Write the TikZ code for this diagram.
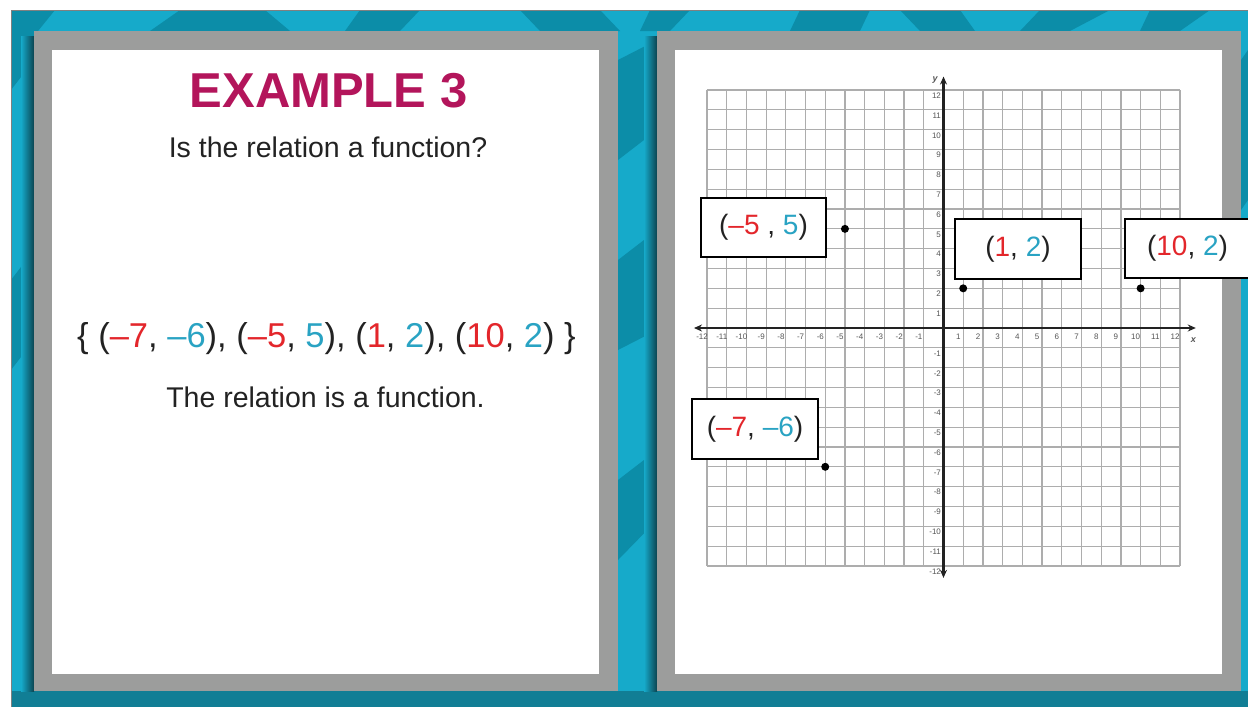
\documentclass[tikz,border=0pt]{standalone}
\usepackage{fontspec}
\setmainfont{Liberation Sans}
\usetikzlibrary{arrows.meta}
\definecolor{tealA}{HTML}{16AACA}
\definecolor{tealB}{HTML}{0C8DA8}
\definecolor{tealC}{HTML}{117E95}
\definecolor{shadowc}{HTML}{0A4350}
\definecolor{panelgray}{HTML}{9C9D9C}
\definecolor{titlec}{HTML}{B3155B}
\definecolor{xred}{HTML}{E3262B}
\definecolor{yblue}{HTML}{29A3C3}
\definecolor{inkc}{HTML}{222222}
\definecolor{gridc}{HTML}{ADADAD}
\definecolor{tickc}{HTML}{555555}
\newcommand{\xr}[1]{\textcolor{xred}{#1}}
\newcommand{\yb}[1]{\textcolor{yblue}{#1}}
\tikzset{
  bodytext/.style={font=\fontsize{28.5}{32}\selectfont, text=inkc, anchor=base, inner sep=0pt},
  settext/.style={font=\fontsize{34.5}{38}\selectfont, text=inkc, anchor=base, inner sep=0pt},
  titletext/.style={font=\fontsize{49}{52}\selectfont\bfseries, text=titlec, anchor=base, inner sep=0pt},
  ptbox/.style={draw=black, line width=2pt, fill=white, minimum width=125pt, minimum height=59pt,
    inner sep=0pt, font=\fontsize{28}{32}\selectfont, text=inkc},
  gridline/.style={draw=gridc, line width=1.2pt},
  axisline/.style={draw=inkc, line width=2.6pt, {Stealth[length=8pt,width=7pt]}-{Stealth[length=8pt,width=7pt]}},
  tick/.style={font=\fontsize{8}{9}\selectfont, text=tickc, inner sep=0pt},
  ptdot/.style={fill=black},
}
\begin{document}
\begin{tikzpicture}[x=1pt,y=-1pt]
\useasboundingbox (0,0) rectangle (1248,707);
\fill[white] (0,0) rectangle (1248,707);
% teal background
\fill[tealA] (11,10) rectangle (1248,707);
\fill[tealB] (11,10) -- (55,10) -- (38,31) -- (34,60) -- (11,90) -- cycle;
\fill[tealB] (180,10) -- (265,10) -- (290,31) -- (150,31) -- cycle;
\fill[tealB] (360,10) -- (420,10) -- (400,31) -- (345,31) -- cycle;
\fill[tealB] (520,10) -- (600,10) -- (620,31) -- (540,31) -- cycle;
\fill[tealB] (618,60) -- (657,40) -- (657,130) -- (618,160) -- cycle;
\fill[tealB] (618,260) -- (657,230) -- (657,330) -- (618,350) -- cycle;
\fill[tealB] (618,480) -- (657,450) -- (657,520) -- (618,560) -- cycle;
\fill[tealB] (650,10) -- (690,10) -- (670,31) -- (640,31) -- cycle;
\fill[tealB] (800,10) -- (870,10) -- (860,31) -- (790,31) -- cycle;
\fill[tealB] (900,10) -- (960,10) -- (975,31) -- (920,31) -- cycle;
\fill[tealB] (1040,10) -- (1110,10) -- (1070,31) -- (1020,31) -- cycle;
\fill[tealB] (1150,10) -- (1210,10) -- (1180,31) -- (1140,31) -- cycle;
\fill[tealB] (11,280) -- (34,250) -- (34,340) -- (11,370) -- cycle;
\fill[tealB] (1241,60) -- (1248,50) -- (1248,200) -- (1241,210) -- cycle;
\fill[tealC] (11,691) rectangle (1248,707);
\draw[gray, line width=0.8pt] (11,707) -- (11,10) -- (1248,10);
% shadows
\shade[left color=tealA, right color=shadowc] (21,36) rectangle (34,691);
\shade[left color=tealA, right color=shadowc] (644,36) rectangle (657,691);
% panels
\fill[panelgray] (34,31) rectangle (618,691);
\fill[white] (52,50) rectangle (599,674);
\fill[panelgray] (657,31) rectangle (1241,691);
\fill[white] (675,50) rectangle (1222,674);
% left panel text
\node[titletext] (title) at (328.5,107) {EXAMPLE 3};
\node[bodytext] (question) at (328,157) {Is the relation a function?};
\node[settext] (relset) at (326.5,347) {\{ (\xr{–7}, \yb{–6}), (\xr{–5}, \yb{5}), (\xr{1}, \yb{2}), (\xr{10}, \yb{2}) \}};
\node[bodytext] (answer) at (325.5,407) {The relation is a function.};
% coordinate grid
\begin{scope}[shift={(943.5,328)}, x=19.71pt, y=19.83pt]
  \foreach \k in {-12,...,12} {
    \draw[gridline] (\k,-12) -- (\k,12);
    \draw[gridline] (-12,\k) -- (12,\k);
  }
  \draw[axisline] (-12.66,0) -- (12.8,0);
  \draw[axisline] (0,-12.6) -- (0,12.68);
  \foreach \i in {-12,...,-1,1,2,...,12} {
    \node[tick] (tx\i) at (\i-0.25,-0.42) {\i};
    \node[tick, anchor=east] (ty\i) at (-0.12,\i-0.28) {\i};
  }
  \node[font=\fontsize{9}{10}\selectfont\bfseries\itshape, text=tickc] (ylab) at (-0.42,12.5) {y};
  \node[font=\fontsize{9}{10}\selectfont\bfseries\itshape, text=tickc] (xlab) at (12.68,-0.6) {x};
  \fill[ptdot] (-5,5) circle[radius=4pt] coordinate (pA);
  \fill[ptdot] (1,2) circle[radius=4pt] coordinate (pB);
  \fill[ptdot] (10,2) circle[radius=4pt] coordinate (pC);
  \fill[ptdot] (-6,-7) circle[radius=4pt] coordinate (pD);
\end{scope}
% point labels
\node[ptbox] (boxA) at (763.5,227.5) {(\xr{–5} , \yb{5})};
\node[ptbox, minimum width=126pt, minimum height=60pt] (boxB) at (1018,249) {(\xr{1}, \yb{2})};
\node[ptbox] (boxC) at (1187.5,248.5) {(\xr{10}, \yb{2})};
\node[ptbox, minimum width=126pt, minimum height=60pt] (boxD) at (755,429) {(\xr{–7}, \yb{–6})};
\end{tikzpicture}
\end{document}
